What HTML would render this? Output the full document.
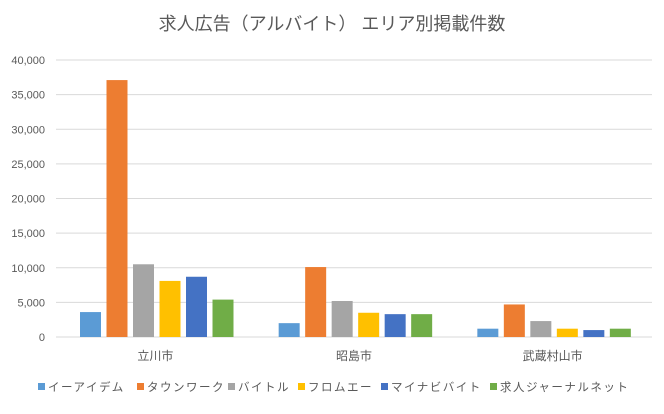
<!DOCTYPE html>
<html><head><meta charset="utf-8"><style>
body{margin:0;background:#fff;font-family:"Liberation Sans","Noto Sans CJK JP",sans-serif;}
svg text{fill:#595959;}
</style></head><body>
<svg width="664" height="409">
<text x="332" y="30" text-anchor="middle" font-size="18">求人広告（アルバイト） エリア別掲載件数</text>
<g id="grid"></g><g id="bars"></g><g id="legend"></g>
</svg>
<script>
const categories=["立川市","昭島市","武蔵村山市"];
const seriesNames=["イーアイデム","タウンワーク","バイトル","フロムエー","マイナビバイト","求人ジャーナルネット"];
const colors=["#5b9bd5","#ed7d31","#a5a5a5","#ffc000","#4472c4","#70ad47"];
const s0=[3600,2000,1200];
const s1=[37100,10100,4700];
const s2=[10500,5200,2300];
const s3=[8100,3500,1200];
const s4=[8700,3300,1000];
const s5=[5400,3300,1200];
const series=[s0,s1,s2,s3,s4,s5];
const ticks=[0,5000,10000,15000,20000,25000,30000,35000,40000];
const NS="http://www.w3.org/2000/svg";
const x0=56,x1=652,y0=337,yTop=60,max=40000;
const y=v=>y0-(v/max)*(y0-yTop);
const cw=(x1-x0)/categories.length;
function mk(t,a,p){const e=document.createElementNS(NS,t);for(const k in a)e.setAttribute(k,a[k]);p.appendChild(e);return e;}
const grid=document.getElementById('grid');
ticks.forEach(t=>{
 const l=mk('line',{x1:x0,x2:x1,y1:y(t),y2:y(t),stroke:'#d9d9d9','stroke-width':1},grid);
 
 
 const tx=mk('text',{x:45,y:y(t)+4,'text-anchor':'end','font-size':11},grid);
 tx.textContent=t.toLocaleString('en-US');
 
 
});
const bars=document.getElementById('bars');
const bw=21,step=26.5,off=24;
categories.forEach((c,i)=>{
 const cx=x0+i*cw;
 series.forEach((s,j)=>{
  const r=mk('rect',{x:cx+off+j*step,y:y(s[i]),width:bw,height:y0-y(s[i]),fill:colors[j]},bars);
  
  
 });
 const t=mk('text',{x:cx+cw/2,y:360,'text-anchor':'middle','font-size':12},bars);
 t.textContent=c;
 
 
});
const lg=document.getElementById('legend');
const lx=[38,137,228,298,381,490];
seriesNames.forEach((n,j)=>{
 const g=mk('g',{},lg);
 
 
 mk('rect',{x:lx[j],y:383,width:7,height:7,fill:colors[j]},g);
 const t=mk('text',{x:lx[j]+10,y:391,'font-size':11.5,'letter-spacing':1.5},g);
 t.textContent=n;
});
</script>
</body></html>
